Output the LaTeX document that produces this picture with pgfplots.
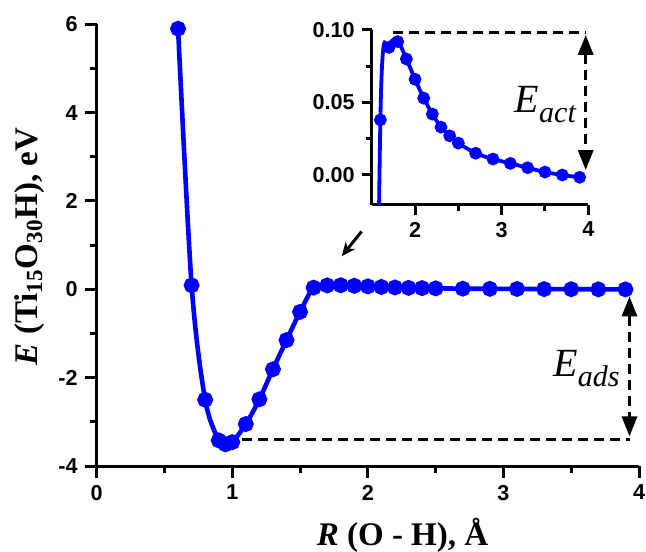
\documentclass[border=0pt]{standalone}
\usepackage{fontspec}
\setmainfont{Liberation Serif}
\setsansfont{Liberation Sans}
\usepackage{pgfplots}
\usepackage{pgfplotstable}
\pgfplotsset{compat=1.18}
\usetikzlibrary{arrows.meta}

\pgfplotstableread{
x y
0.6 5.9
0.7 0.09
0.8 -2.5
0.9 -3.42
0.95 -3.51
1.0 -3.46
1.1 -3.05
1.2 -2.49
1.3 -1.81
1.4 -1.15
1.5 -0.51
1.6 0.038
1.7 0.088
1.8 0.092
1.9 0.080
2.0 0.066
2.1 0.053
2.2 0.042
2.3 0.033
2.4 0.027
2.5 0.022
2.7 0.015
2.9 0.011
3.1 0.008
3.3 0.005
3.5 0.002
3.7 0.000
3.9 -0.0016
}\maindata

\tikzset{
  dashline/.style={black, line width=1.5pt, dash pattern=on 5pt off 3pt},
  dblarrow/.style={dashline, {Triangle[length=10pt,width=7.5pt]}-{Triangle[length=10pt,width=7.5pt]}},
}

\begin{document}
\begin{tikzpicture}
\useasboundingbox (-48.35pt,-42.5pt) rectangle (274.65pt,233.0pt);
\begin{axis}[
  at={(0,0)}, anchor=south west,
  scale only axis, width=271.15pt, height=220.85pt,
  xmin=0, xmax=4, ymin=-4, ymax=6,
  axis x line=bottom, axis y line=left,
  axis line style={-, line width=1.5pt},
  xtick={0,1,2,3,4}, ytick={-4,-2,0,2,4,6},
  minor xtick={0.5,1.5,2.5,3.5}, minor ytick={-3,-1,1,3,5},
  tick align=outside,
  major tick length=6pt, minor tick length=3.5pt,
  tick style={line width=1.5pt, black},
  tick label style={font=\sffamily\bfseries\fontsize{10.8}{12}\selectfont},
  /pgf/number format/assume math mode=true,
  xlabel={\textbf{\textit{R} (O - H), Å}},
  ylabel={\textbf{\textit{E} (Ti\textsubscript{15}O\textsubscript{30}H), eV}},
  every axis x label/.style={at={(axis description cs:0.564,0)}, anchor=base, yshift=-39.5pt, font=\fontsize{16.5}{18}\selectfont},
  every axis y label/.style={at={(axis description cs:-0.110,0.497)}, rotate=90, anchor=base, font=\fontsize{16.5}{18}\selectfont},
  clip=false,
]
\addplot[blue, line width=2.3pt, smooth, mark=*, mark size=2.8pt, mark options={solid, fill=blue}] table {\maindata};
\draw[dashline] (axis cs:1.07,-3.4) -- (axis cs:3.93,-3.4);
\draw[dblarrow] (axis cs:3.93,-0.16) -- (axis cs:3.93,-3.33);
\node[anchor=base east, inner sep=0pt] at (axis cs:3.86,-1.977) {\fontsize{20}{24}\selectfont\textit{E}\raisebox{-5pt}{\fontsize{15}{15}\selectfont\textit{ads}}};
\draw[black, line width=1.5pt, -{Stealth[length=7pt,width=6pt]}] (axis cs:1.954,1.31) -- (axis cs:1.807,0.75);
\end{axis}

\begin{axis}[
  at={(137.5pt,130.5pt)}, anchor=south west,
  scale only axis, width=108.3pt, height=87.5pt,
  xmin=1.5, xmax=4, ymin=-0.0207, ymax=0.1,
  axis x line=bottom, axis y line=left,
  axis line style={-, line width=1.5pt},
  xtick={2,3,4}, ytick={0,0.05,0.1},
  minor xtick={2.5,3.5}, minor ytick={0.025,0.075},
  tick align=outside,
  major tick length=5pt, minor tick length=3pt,
  tick style={line width=1.5pt, black},
  tick label style={font=\sffamily\bfseries\fontsize{10.8}{12}\selectfont},
  /pgf/number format/assume math mode=true,
  yticklabel style={/pgf/number format/.cd, fixed, fixed zerofill, precision=2},
  clip mode=individual,
]
\addplot[blue, line width=1.9pt, smooth, mark=*, mark size=2.2pt, mark options={solid, fill=blue}, restrict x to domain=1.45:4] table {\maindata};
\draw[dashline] (axis cs:1.75,0.098) -- (axis cs:3.97,0.098);
\draw[dblarrow] (axis cs:3.97,0.0966) -- (axis cs:3.97,0.0034);
\node[anchor=base east, inner sep=0pt] at (axis cs:3.868,0.0428) {\fontsize{20}{24}\selectfont\textit{E}\raisebox{-5pt}{\fontsize{15}{15}\selectfont\textit{act}}};
\end{axis}
\end{tikzpicture}
\end{document}
